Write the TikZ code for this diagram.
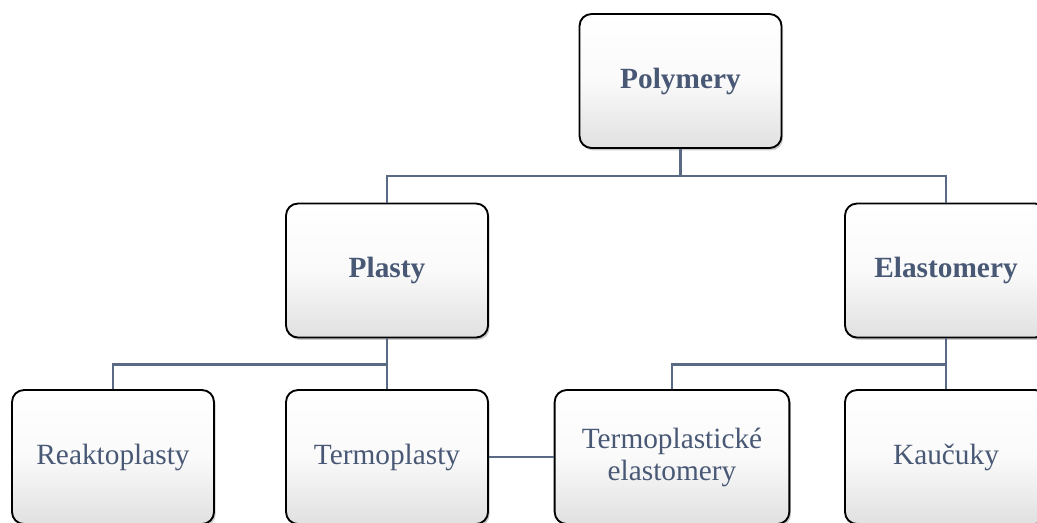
\documentclass[tikz,border=0pt]{standalone}
\usepackage{fontspec}
\setmainfont{Liberation Serif}
\usetikzlibrary{positioning,shadows}
\definecolor{slate}{HTML}{485875}
\definecolor{linkcol}{HTML}{5A6A84}

\begin{document}
\begin{tikzpicture}[x=0.75pt,y=-0.75pt,
  box/.style={rectangle,draw=black,line width=1.4pt,rounded corners=9pt,
    minimum width=151.5pt,minimum height=100.5pt,inner sep=2pt,
    top color=white,bottom color=black!12,middle color=black!2,
    drop shadow={shadow xshift=1.2pt,shadow yshift=-1.8pt,opacity=0.35,fill=black!60},
    text=slate,font=\fontsize{22}{24}\selectfont,align=center},
  head/.style={box,font=\fontsize{22}{24}\selectfont\bfseries},
  link/.style={draw=linkcol,line width=1.8pt}
]
\path[use as bounding box] (0,0) rectangle (1037,522);
\clip (0,0) rectangle (1037,522);
% top level
\node[head] (poly) at (680.5,81) {Polymery};
% second level
\node[head] (plasty) at (387,270.5) {Plasty};
\node[head] (elast) at (946,270.5) {Elastomery};
% third level
\node[box] (reakto) at (113,457) {Reaktoplasty};
\node[box] (termo) at (387,457) {Termoplasty};
\node[box,minimum width=176pt] (tpe) at (672,457) {Termoplastické\\elastomery};
\node[box] (kauc) at (946,457) {Kaučuky};
% connectors
\draw[link] (poly.south) -- ++(0,27) -| (plasty.north);
\draw[link] (poly.south) -- ++(0,27) -| (elast.north);
\draw[link] (plasty.south) -- ++(0,26) -| (reakto.north);
\draw[link] (plasty.south) -- (termo.north);
\draw[link] (elast.south) -- ++(0,26) -| (tpe.north);
\draw[link] (elast.south) -- (kauc.north);
\draw[link] (termo.east) -- (tpe.west);
\end{tikzpicture}
\end{document}
